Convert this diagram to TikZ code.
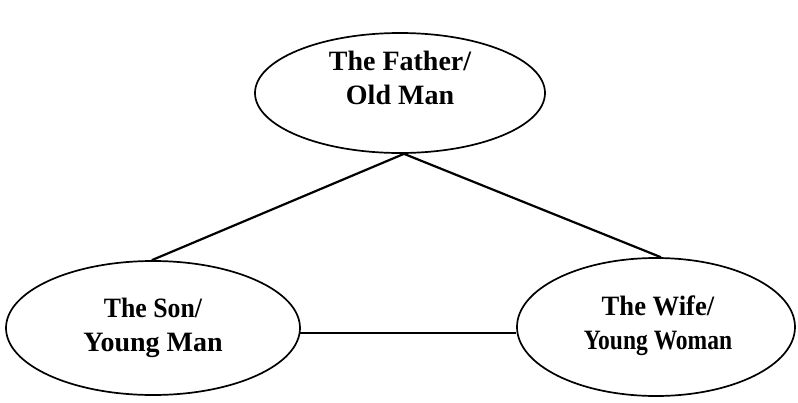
\documentclass[tikz,border=0pt]{standalone}
\usepackage{fontspec}
\setmainfont{Liberation Serif}
\usetikzlibrary{shapes.geometric}
\tikzset{
  oval/.style={ellipse, draw=black, line width=1.7pt, inner sep=0pt},
  lbl/.style={align=center, font=\fontsize{28}{34}\selectfont\bfseries, inner sep=0pt},
  link/.style={draw=black, line width=2.2pt},
}
\begin{document}
\begin{tikzpicture}[x=1pt,y=-1pt]
  \fill[white] (0,0) rectangle (798,402);
  \useasboundingbox (0,0) rectangle (798,402);

  % the three figures
  \node[oval, minimum width=290pt, minimum height=120pt] (father) at (400,93) {};
  \node[oval, minimum width=294pt, minimum height=134pt] (son) at (153,328) {};
  \node[oval, minimum width=278pt, minimum height=138pt] (wife) at (656,327) {};

  \node[lbl] (fatherText) at (400,78) {The Father/\\Old Man};
  \node[lbl] (sonText) at (153,328) {\scalebox{0.92}[1]{The Son/}\\Young Man};
  \node[lbl] (wifeText) at (658,326) {\scalebox{0.95}[1]{The Wife/}\\\scalebox{0.84}[1]{Young Woman}};

  % connections
  \coordinate (apex) at ([xshift=4pt]father.south);
  \draw[link] (apex) -- (son.91);
  \draw[link] (apex) -- (wife.86);
  \draw[link, line width=1.6pt] (son.-2) -- (son.-2 -| wife.west);
\end{tikzpicture}
\end{document}
